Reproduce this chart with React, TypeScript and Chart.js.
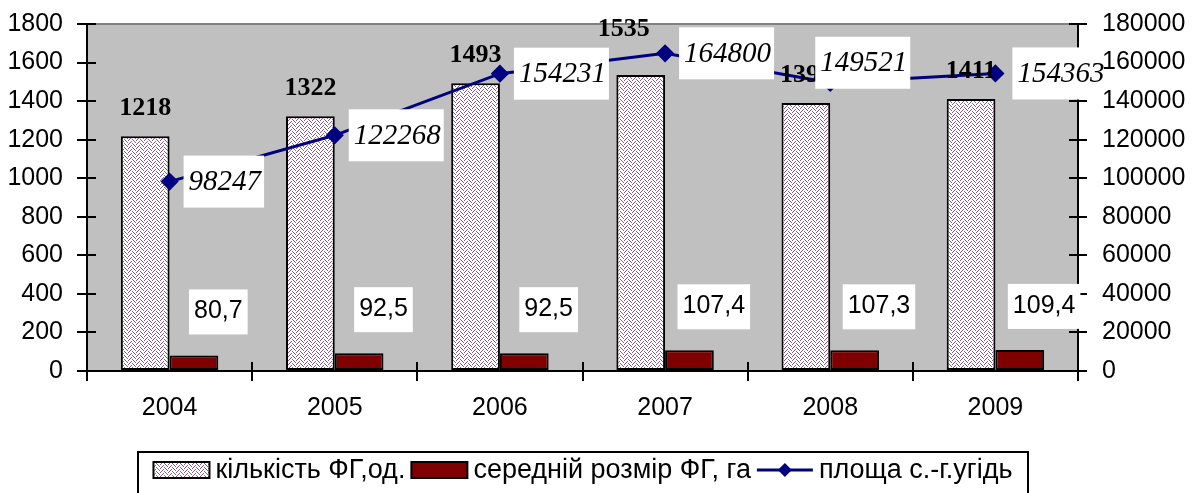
import React, { useEffect, useRef } from 'react';
import { Chart, registerables } from 'chart.js';

Chart.register(...registerables);

// ---- data ----
const years = ['2004', '2005', '2006', '2007', '2008', '2009'];
const farmCount = [1218, 1322, 1493, 1535, 1390, 1411];
const avgSize = [80.7, 92.5, 92.5, 107.4, 107.3, 109.4];
const landArea = [98247, 122268, 154231, 164800, 149521, 154363];
const legendNames = ['кількість ФГ,од.', 'середній розмір ФГ, га', 'площа с.-г.угідь'];

// label nudges (pixels) for labels that were moved by hand in the original
const countLabelShift = [[0, 0], [0, 0], [0, 0], [-17, -18], [0, 0], [0, 0]];
const areaLabelShift = [[0, 0], [0, 0], [0, 0], [0, 0], [-29, -20], [3, 0]];

const SANS = '"Liberation Sans", Arial, sans-serif';
const SERIF = '"Liberation Serif", "Times New Roman", serif';
const NAVY = '#000080';
const MAROON = '#800000';

function makePattern(): CanvasPattern | string {
  const c = document.createElement('canvas');
  c.width = 8;
  c.height = 8;
  const g = c.getContext('2d');
  if (!g) return '#d8c4d2';
  g.fillStyle = '#ffffff';
  g.fillRect(0, 0, 8, 8);
  g.fillStyle = '#8f5a82';
  for (let y = 0; y < 8; y++) {
    for (let x = 0; x < 8; x++) {
      const on = x < 4 ? (x + y) % 4 === 0 : (x - y + 8) % 4 === 1;
      if (on) g.fillRect(x, y, 1, 1);
    }
  }
  return g.createPattern(c, 'repeat') || '#d8c4d2';
}

const fmtDec = (v: number) => v.toFixed(1).replace('.', ',');

export default function App() {
  const ref = useRef<HTMLCanvasElement | null>(null);

  useEffect(() => {
    document.body.style.margin = '0';
    const canvas = ref.current;
    if (!canvas) return;
    const pattern = makePattern();

    const decor = {
      id: 'decor',
      beforeDraw(chart: any) {
        const { ctx, chartArea: a } = chart;
        ctx.save();
        ctx.fillStyle = '#c0c0c0';
        ctx.fillRect(a.left, a.top, a.right - a.left, a.bottom - a.top);
        ctx.strokeStyle = '#808080';
        ctx.lineWidth = 2;
        ctx.beginPath();
        ctx.moveTo(a.left, a.top);
        ctx.lineTo(a.right, a.top);
        ctx.stroke();
        ctx.restore();
      },
      afterDraw(chart: any) {
        const { ctx, chartArea: a } = chart;
        ctx.save();
        // inner halves of the crossing tick marks
        ctx.strokeStyle = '#000';
        ctx.lineWidth = 2;
        ctx.beginPath();
        const ys = chart.scales.y;
        ys.ticks.forEach((t: any) => {
          const p = Math.round(ys.getPixelForValue(t.value));
          ctx.moveTo(a.left, p);
          ctx.lineTo(a.left + 9, p);
        });
        const y1 = chart.scales.y1;
        y1.ticks.forEach((t: any) => {
          const p = Math.round(y1.getPixelForValue(t.value));
          ctx.moveTo(a.right - 9, p);
          ctx.lineTo(a.right, p);
        });
        const n = years.length;
        for (let i = 0; i <= n; i++) {
          const x = Math.round(a.left + (i * (a.right - a.left)) / n);
          ctx.moveTo(x, a.bottom - 9);
          ctx.lineTo(x, a.bottom);
        }
        ctx.stroke();

        // count labels
        ctx.fillStyle = '#000';
        ctx.textAlign = 'center';
        ctx.textBaseline = 'middle';
        ctx.font = 'bold 26px ' + SERIF;
        chart.getDatasetMeta(0).data.forEach((bar: any, i: number) => {
          const [dx, dy] = countLabelShift[i];
          ctx.fillText(String(farmCount[i]), bar.x + dx, bar.y - 28 + dy);
        });

        // average size labels
        ctx.font = '25px ' + SANS;
        chart.getDatasetMeta(1).data.forEach((bar: any, i: number) => {
          const txt = fmtDec(avgSize[i]);
          const w = ctx.measureText(txt).width;
          const cx = bar.x + bar.width / 2;
          const cy = bar.y - 44;
          ctx.fillStyle = '#fff';
          ctx.fillRect(cx - w / 2 - 5, cy - 22, w + 10, 45);
          ctx.fillStyle = '#000';
          ctx.fillText(txt, cx, cy);
        });

        // area labels
        ctx.font = 'italic 29px ' + SERIF;
        ctx.textAlign = 'left';
        chart.getDatasetMeta(2).data.forEach((pt: any, i: number) => {
          const [dx, dy] = areaLabelShift[i];
          const txt = String(landArea[i]);
          const w = ctx.measureText(txt).width;
          const bx = pt.x + 14 + dx;
          const cy = pt.y + dy;
          ctx.fillStyle = '#fff';
          ctx.fillRect(bx, cy - 26, w + 8, 52);
          ctx.fillStyle = '#000';
          ctx.fillText(txt, bx + 5, cy + 1);
        });

        // value axis tick labels (drawn on top, as in the original)
        ctx.font = '25px ' + SANS;
        ctx.fillStyle = '#000';
        ctx.textAlign = 'right';
        ys.ticks.forEach((t: any) => {
          ctx.fillText(String(t.value), a.left - 24, ys.getPixelForValue(t.value));
        });
        ctx.textAlign = 'left';
        y1.ticks.forEach((t: any) => {
          ctx.fillText(String(t.value), a.right + 24, y1.getPixelForValue(t.value));
        });

        // legend
        ctx.font = '27px ' + SANS;
        const sw = 56;
        const gapText = 6;
        const gapItem = 6;
        const widths = legendNames.map((s) => ctx.measureText(s).width);
        const total = widths.reduce((s, w) => s + w, 0) + 3 * (sw + gapText) + 2 * gapItem;
        const boxL = 138;
        const boxR = 1028;
        let x = (boxL + boxR) / 2 - total / 2;
        const cy = 470;
        ctx.strokeStyle = '#000';
        ctx.lineWidth = 2;
        ctx.strokeRect(boxL, 452, boxR - boxL, 70);
        legendNames.forEach((name, i) => {
          if (i === 0 || i === 1) {
            ctx.fillStyle = i === 0 ? (pattern as any) : MAROON;
            ctx.fillRect(x, cy - 8, sw, 16);
            ctx.strokeStyle = '#000';
            ctx.lineWidth = 2;
            ctx.strokeRect(x, cy - 8, sw, 16);
          } else {
            ctx.strokeStyle = NAVY;
            ctx.lineWidth = 3;
            ctx.beginPath();
            ctx.moveTo(x, cy);
            ctx.lineTo(x + sw, cy);
            ctx.stroke();
            ctx.fillStyle = NAVY;
            ctx.beginPath();
            const mx = x + sw / 2;
            ctx.moveTo(mx, cy - 7);
            ctx.lineTo(mx + 7, cy);
            ctx.lineTo(mx, cy + 7);
            ctx.lineTo(mx - 7, cy);
            ctx.closePath();
            ctx.fill();
          }
          x += sw + gapText;
          ctx.fillStyle = '#000';
          ctx.textAlign = 'left';
          ctx.fillText(name, x, cy + 1);
          x += widths[i] + gapItem;
        });
        ctx.restore();
      },
    };

    const tickFont = { family: SANS, size: 25 };
    const chart = new Chart(canvas, {
      type: 'bar',
      data: {
        labels: years,
        datasets: [
          {
            type: 'bar',
            label: legendNames[0],
            data: farmCount,
            backgroundColor: pattern as any,
            borderColor: '#000',
            borderWidth: 2,
            borderSkipped: false,
            yAxisID: 'y',
            order: 1,
            categoryPercentage: 0.59,
            barPercentage: 1,
          },
          {
            type: 'bar',
            label: legendNames[1],
            data: avgSize,
            backgroundColor: MAROON,
            borderColor: '#000',
            borderWidth: 2,
            borderSkipped: false,
            yAxisID: 'y',
            order: 1,
            categoryPercentage: 0.59,
            barPercentage: 1,
          },
          {
            type: 'line',
            label: legendNames[2],
            data: landArea,
            borderColor: NAVY,
            backgroundColor: NAVY,
            borderWidth: 3,
            pointStyle: 'rectRot',
            pointRadius: 7,
            pointBackgroundColor: NAVY,
            pointBorderColor: NAVY,
            tension: 0,
            yAxisID: 'y1',
            order: 0,
          } as any,
        ],
      },
      options: {
        responsive: false,
        animation: false,
        devicePixelRatio: 1,
        layout: { padding: { top: 24, left: 0, right: 0, bottom: 0 } },
        plugins: { legend: { display: false }, tooltip: { enabled: false } },
        scales: {
          x: {
            offset: true,
            grid: { offset: true, drawOnChartArea: false, drawTicks: true, tickLength: 10, color: '#000', lineWidth: 2 },
            border: { display: true, color: '#000', width: 2 },
            ticks: { font: tickFont, color: '#000', padding: 12, maxRotation: 0 },
            afterFit: (s: any) => { s.height = 122; s.paddingLeft = 0; s.paddingRight = 0; },
          },
          y: {
            position: 'left',
            min: 0,
            max: 1800,
            ticks: { stepSize: 200, display: false },
            grid: { drawOnChartArea: false, drawTicks: true, tickLength: 10, color: '#000', lineWidth: 2 },
            border: { display: true, color: '#000', width: 2 },
            afterFit: (s: any) => { s.width = 87; s.paddingTop = 0; s.paddingBottom = 0; },
          },
          y1: {
            position: 'right',
            min: 0,
            max: 180000,
            ticks: { stepSize: 20000, display: false },
            grid: { drawOnChartArea: false, drawTicks: true, tickLength: 9, color: '#000', lineWidth: 2 },
            border: { display: true, color: '#000', width: 2 },
            afterFit: (s: any) => { s.width = 114; s.paddingTop = 0; s.paddingBottom = 0; },
          },
        },
      },
      plugins: [decor],
    });
    return () => chart.destroy();
  }, []);

  return <canvas ref={ref} width={1192} height={493} style={{ display: 'block', width: 1192, height: 493 }} />;
}
